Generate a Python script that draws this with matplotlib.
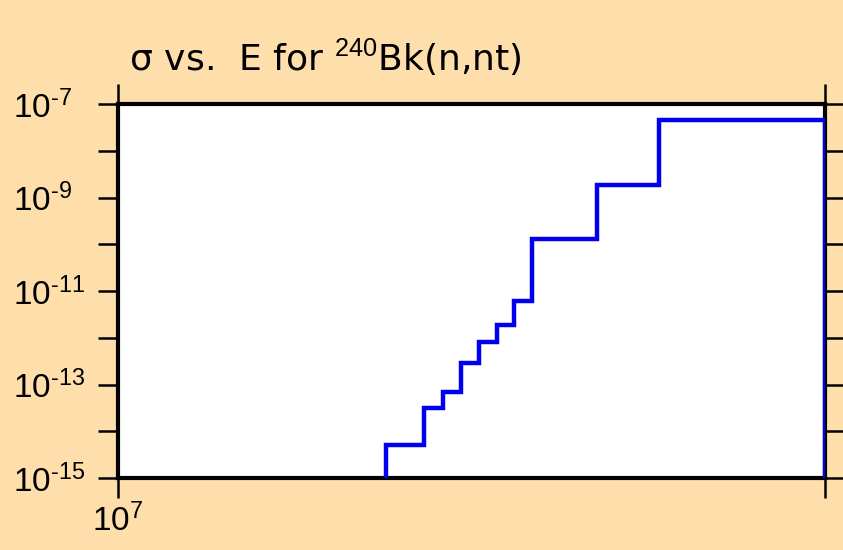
import numpy as np
import matplotlib
matplotlib.use("Agg")
import matplotlib.pyplot as plt
from matplotlib.ticker import FixedLocator, FuncFormatter, NullLocator

plt.rcParams['font.family'] = ['Liberation Sans', 'DejaVu Sans']
plt.rcParams['mathtext.fontset'] = 'custom'
plt.rcParams['mathtext.rm'] = 'Liberation Sans'
plt.rcParams['mathtext.it'] = 'Liberation Sans'
plt.rcParams['mathtext.bf'] = 'Liberation Sans:bold'

# Datos: bordes de energia (eV) y seccion eficaz (b) por intervalo
energia = [1.3e7, 1.35e7, 1.375e7, 1.4e7, 1.425e7, 1.45e7, 1.475e7, 1.5e7, 1.6e7, 1.7e7, 2.0e7]
sigma = [5.1e-15, 3.1e-14, 6.9e-14, 2.85e-13, 8.2e-13, 1.88e-12, 6.0e-12, 1.28e-10, 1.88e-9, 4.55e-8]
y_ticks = [1e-15, 1e-14, 1e-13, 1e-12, 1e-11, 1e-10, 1e-9, 1e-8, 1e-7]
x_ticks = [1e7, 2e7]

fondo = '#FEDFAB'

fig = plt.figure(figsize=(8.43, 5.5), dpi=100, facecolor=fondo)
ax = fig.add_axes([118/843, 1 - 478/550, (825 - 118)/843, (478 - 104)/550])
ax.set_facecolor('white')

ax.stairs(sigma, energia, baseline=1e-20, color='#0000EE', linewidth=3.2, zorder=3)

ax.set_xscale('log')
ax.set_yscale('log')
ax.set_xlim(1e7, 2e7)
ax.set_ylim(1e-15, 1e-7)

ax.xaxis.set_major_locator(FixedLocator(x_ticks))
ax.xaxis.set_minor_locator(NullLocator())
ax.yaxis.set_major_locator(FixedLocator(y_ticks))
ax.yaxis.set_minor_locator(NullLocator())


def fmt_y(v, pos):
    e = int(round(np.log10(v)))
    if e % 2 == 0:
        return ''
    return r'$\mathregular{10^{\text{%d}}}$' % e


def fmt_x(v, pos):
    e = np.log10(v)
    if abs(e - round(e)) > 1e-6:
        return ''
    return r'$\mathregular{10^{\text{%d}}}$' % int(round(e))


ax.yaxis.set_major_formatter(FuncFormatter(fmt_y))
ax.xaxis.set_major_formatter(FuncFormatter(fmt_x))

ax.tick_params(axis='both', which='major', direction='out', length=14.5, width=1.8,
               labelsize=24, top=True, right=True, color='black')
ax.tick_params(axis='y', pad=61)
ax.tick_params(axis='x', pad=4)
for lab in ax.get_yticklabels():
    lab.set_horizontalalignment('left')

for s in ax.spines.values():
    s.set_linewidth(3)
    s.set_color('black')

ax.set_title(r' σ vs.  E for $^{240}$Bk(n,nt)', loc='left', fontsize=26,
             family=['DejaVu Sans'], pad=24)

fig.savefig('out.png', dpi=100, facecolor=fondo)
